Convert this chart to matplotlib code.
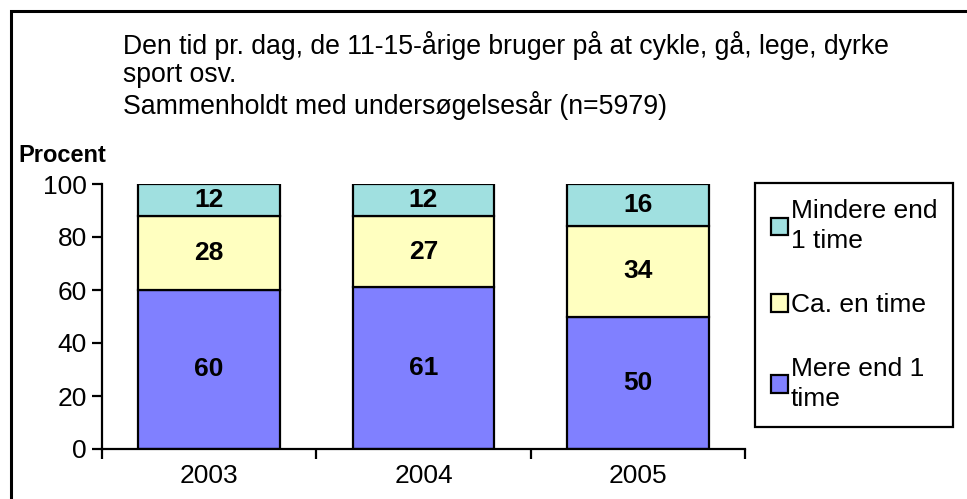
import matplotlib
matplotlib.use("Agg")
import numpy as np
from matplotlib import pyplot as plt
from matplotlib.patches import Rectangle, Patch

plt.rcParams['font.family'] = ['Liberation Sans', 'DejaVu Sans']

years = ['2003', '2004', '2005']
mere = [60, 61, 50]
ca = [28, 27, 34]
mindre = [12, 12, 16]
names = ['Mere end 1\ntime', 'Ca. en time', 'Mindere end\n1 time']
colors = ['#8080FF', '#FFFFC0', '#A0E0E0']

fig = plt.figure(figsize=(9.67, 4.99), dpi=100)
ax = fig.add_axes([102/967, 1-449/499, (745-102)/967, (449-184)/499])

# outer frame (runs off the right and bottom edge)
fig.patches.append(Rectangle((11/967, -0.1), 1.2, 1.1 - 11/499,
                             transform=fig.transFigure, fill=False,
                             edgecolor='black', lw=2.2))

x = np.arange(len(years))
w = 0.66
bottom = np.zeros(3)
for vals, c in zip([mere, ca, mindre], colors):
    bars = ax.bar(x, vals, w, bottom=bottom, color=c, edgecolor='black', lw=1.6)
    for b, v, y0 in zip(bars, vals, bottom):
        ax.text(b.get_x() + b.get_width()/2, y0 + v/2, str(v), ha='center', va='center',
                fontsize=19, fontweight='bold')
    bottom = bottom + np.array(vals)

ax.set_xlim(-0.5, 2.5)
ax.set_ylim(0, 100)
ax.set_yticks(range(0, 101, 20))
ax.tick_params(axis='y', labelsize=19, length=7, width=1.6, direction='out', pad=4)
ax.set_xticks(x)
ax.set_xticklabels(years, fontsize=19)
ax.tick_params(axis='x', length=0, pad=11)
ax.set_xticks([-0.5, 0.5, 1.5, 2.5], minor=True)
ax.tick_params(axis='x', which='minor', length=7, width=1.6, direction='out')
for s in ['top', 'right']:
    ax.spines[s].set_visible(False)
ax.spines['left'].set_linewidth(1.6)
ax.spines['bottom'].set_linewidth(1.6)

fig.text(18/967, 1-156/499, 'Procent', fontsize=17, fontweight='bold', va='center')
fig.text(123/967, 1-46/499, 'Den tid pr. dag, de 11-15-årige bruger på at cykle, gå, lege, dyrke',
         fontsize=19.2, va='center')
fig.text(123/967, 1-75/499, 'sport osv.', fontsize=19.2, va='center')
fig.text(123/967, 1-106/499, 'Sammenholdt med undersøgelsesår (n=5979)', fontsize=19.2, va='center')

handles = [Patch(facecolor=c, edgecolor='black', lw=1.6) for c in colors[::-1]]
leg = fig.legend(handles, names[::-1], loc='upper left',
                 bbox_to_anchor=(755/967, 1-183/499), fontsize=19,
                 frameon=True, fancybox=False, edgecolor='black', framealpha=1,
                 handlelength=0.65, handleheight=0.65, handletextpad=0.1,
                 labelspacing=1.5, borderpad=0.6, borderaxespad=0)
leg.get_frame().set_linewidth(1.6)
for t in leg.get_texts():
    t.set_linespacing(1.35)

fig.savefig('out.png', dpi=100)
